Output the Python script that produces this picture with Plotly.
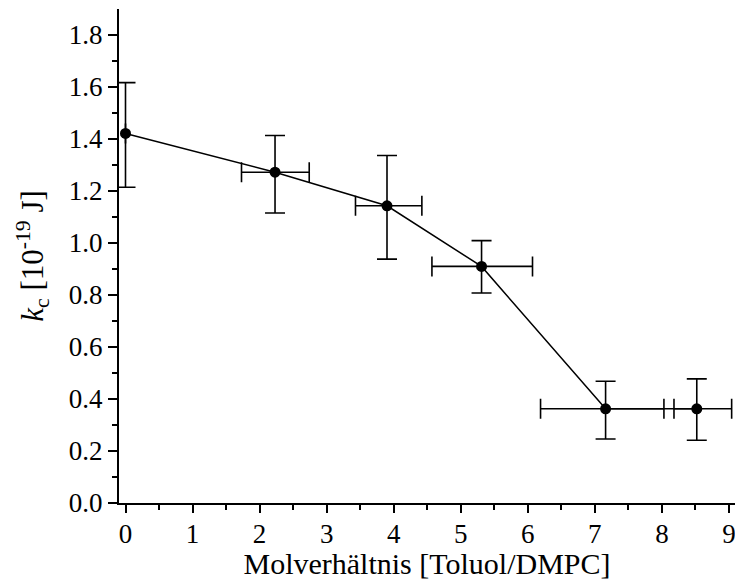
import plotly.graph_objects as go

# Data
ratio = [0.0, 2.23, 3.90, 5.31, 7.16, 8.52]
ratio_err_minus = [0.0, 0.50, 0.47, 0.74, 0.97, 0.34]
ratio_err_plus = [0.0, 0.51, 0.52, 0.76, 0.87, 0.52]
kc = [1.42, 1.271, 1.142, 0.909, 0.362, 0.362]
kc_err_minus = [0.207, 0.157, 0.205, 0.102, 0.116, 0.121]
kc_err_plus = [0.195, 0.141, 0.193, 0.099, 0.106, 0.115]

x_ticks = [0, 1, 2, 3, 4, 5, 6, 7, 8, 9]
y_ticks = [0.0, 0.2, 0.4, 0.6, 0.8, 1.0, 1.2, 1.4, 1.6, 1.8]

font_family = "Liberation Serif"

fig = go.Figure()
fig.add_trace(go.Scatter(
    x=ratio, y=kc,
    mode="lines+markers",
    line=dict(color="black", width=1.5),
    marker=dict(color="black", size=11),
    error_x=dict(type="data", symmetric=False, array=ratio_err_plus,
                 arrayminus=ratio_err_minus, color="black", thickness=1.6, width=10),
    error_y=dict(type="data", symmetric=False, array=kc_err_plus,
                 arrayminus=kc_err_minus, color="black", thickness=1.6, width=10),
    showlegend=False,
    cliponaxis=False,
))

fig.update_layout(
    width=735, height=580,
    margin=dict(l=119, r=0, t=9, b=77),
    paper_bgcolor="white", plot_bgcolor="white",
    font=dict(family=font_family, color="black", size=27),
    xaxis=dict(
        range=[-0.097, 9.09],
        tickmode="array", tickvals=x_ticks, ticktext=[str(v) for v in x_ticks],
        ticks="outside", ticklen=8, tickwidth=1.6, tickcolor="black",
        minor=dict(ticks="outside", ticklen=5, dtick=0.5, tickwidth=1.6, tickcolor="black"),
        showline=True, linecolor="black", linewidth=2,
        showgrid=False, zeroline=False,
        tickfont=dict(family=font_family, size=27),
        ticklabeloverflow="allow",
        ticklabelstandoff=-2,
        automargin=False,
        title=dict(text="Molverhältnis [Toluol/DMPC]", font=dict(family=font_family, size=30), standoff=0),
    ),
    yaxis=dict(
        range=[0, 1.898],
        tickmode="array", tickvals=y_ticks, ticktext=[f"{v:.1f}" for v in y_ticks],
        ticks="outside", ticklen=9, tickwidth=1.6, tickcolor="black",
        minor=dict(ticks="outside", ticklen=5, dtick=0.1, tickwidth=1.6, tickcolor="black"),
        showline=True, linecolor="black", linewidth=2,
        showgrid=False, zeroline=False,
        tickfont=dict(family=font_family, size=27),
        automargin=False,
        title=dict(text="<i>k</i><sub>c</sub> [10<sup>-19</sup> J]", font=dict(family=font_family, size=31), standoff=16),
    ),
)

fig.write_html("out.html")
